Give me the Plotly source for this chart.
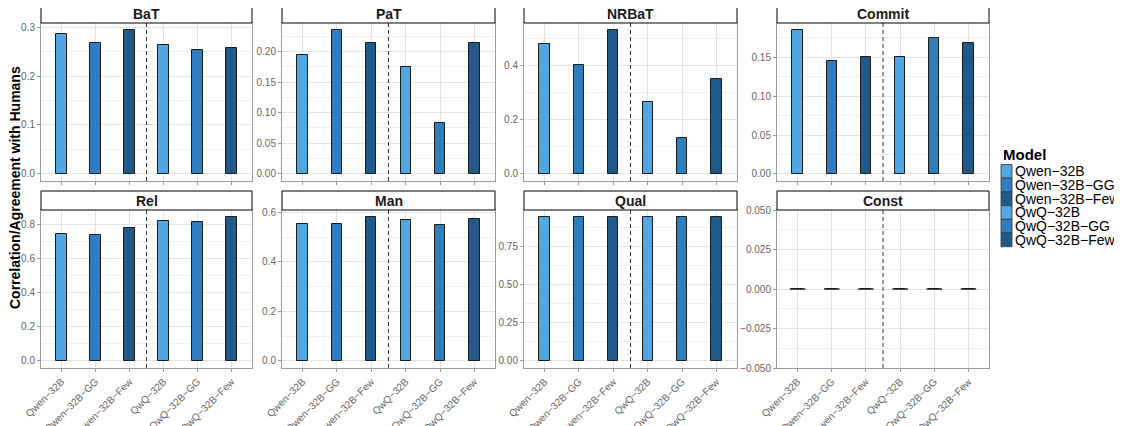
import plotly.graph_objects as go

# ---------------- data ----------------
MODELS = ["Qwen−32B", "Qwen−32B−GG", "Qwen−32B−Few", "QwQ−32B", "QwQ−32B−GG", "QwQ−32B−Few"]
QWEN_COUNT = 3  # number of Qwen models before the dashed separator
COLORS = ["#4FA8E1", "#2E7EC1", "#1F5A8A", "#4FA8E1", "#2E7EC1", "#1F5A8A"]

METRICS = ["BaT", "PaT", "NRBaT", "Commit", "Rel", "Man", "Qual", "Const"]
BAT = [0.287, 0.267, 0.294, 0.264, 0.254, 0.257]
PAT = [0.194, 0.235, 0.214, 0.174, 0.083, 0.214]
NRBAT = [0.479, 0.402, 0.530, 0.265, 0.134, 0.350]
COMMIT = [0.185, 0.145, 0.150, 0.150, 0.175, 0.169]
REL = [0.747, 0.740, 0.781, 0.820, 0.814, 0.843]
MAN = [0.554, 0.554, 0.581, 0.570, 0.551, 0.572]
QUAL = [0.940, 0.940, 0.940, 0.940, 0.940, 0.940]
CONST = [0.0, 0.0, 0.0, 0.0, 0.0, 0.0]
VALUES = [BAT, PAT, NRBAT, COMMIT, REL, MAN, QUAL, CONST]

Y_TICK_STEP = [0.1, 0.05, 0.2, 0.05, 0.2, 0.2, 0.25, 0.025]
Y_TICK_FORMAT = [".1f", ".2f", ".1f", ".2f", ".1f", ".1f", ".2f", ".3f"]

Y_TITLE = "Correlation/Agreement with Humans"
LEGEND_TITLE = "Model"

# ---------------- layout geometry (window pixels) ----------------
W, H = 1122, 426
OFF = 8                      # default page margin around the plot div


def px(x):
    return (x - OFF) / W


def py(y):
    return 1 - (y - OFF) / H


COL_X = [(41, 252), (282, 495), (524, 737), (777, 989)]
ROW_Y = [(23, 181), (210, 368)]
STRIP_H = 19
FONT = "Liberation Sans, Arial, Helvetica, sans-serif"
GRID = "#E3E3E3"
MINOR_GRID = "#EFEFEF"
BORDER = "#9A9A9A"
TICK_TXT = "#666666"

fig = go.Figure()
shapes = []
annotations = []
layout_axes = {}

for i, (metric, vals) in enumerate(zip(METRICS, VALUES)):
    r, c = divmod(i, 4)
    n = i + 1
    sfx = "" if n == 1 else str(n)
    xa, ya = f"x{sfx}", f"y{sfx}"
    xk, yk = f"xaxis{sfx}", f"yaxis{sfx}"
    x0, x1 = COL_X[c]
    y0, y1 = ROW_Y[r]

    fig.add_trace(go.Bar(
        x=MODELS, y=vals, xaxis=xa, yaxis=ya, width=0.3,
        marker=dict(color=COLORS, line=dict(color="#1a1a1a", width=1)),
        showlegend=False, name=metric,
        hovertemplate="%{x}: %{y}<extra>" + metric + "</extra>",
    ))
    # zero-height bars collapse to a flat outline, as in the original
    zx = [m for m, v in zip(MODELS, vals) if v == 0]
    zy = [v for v in vals if v == 0]
    if zx:
        fig.add_trace(go.Scatter(
            x=zx, y=zy, xaxis=xa, yaxis=ya, mode="markers",
            marker=dict(symbol="line-ew", size=11, line=dict(color="#1a1a1a", width=1.5)),
            showlegend=False, hoverinfo="skip",
        ))

    vmax, vmin = max(vals), min(vals)
    if vmax == vmin == 0:
        yr = [-0.05, 0.05]
    else:
        lo, hi = min(0, vmin), max(0, vmax)
        pad = 0.05 * (hi - lo)
        yr = [lo - pad, hi + pad]

    step = Y_TICK_STEP[i]
    layout_axes[xk] = dict(
        domain=[px(x0), px(x1)], anchor=ya, type="category",
        categoryorder="array", categoryarray=MODELS,
        range=[-0.6, len(MODELS) - 0.4], automargin=False,
        showgrid=True, gridcolor=GRID, gridwidth=1,
        showline=True, linecolor=BORDER, linewidth=1, mirror=True,
        ticks="outside", ticklen=3, tickcolor=BORDER, tickwidth=1,
        showticklabels=(r == 1), tickangle=-45,
        tickfont=dict(family=FONT, size=10, color=TICK_TXT),
        zeroline=False, fixedrange=True,
    )
    layout_axes[yk] = dict(
        domain=[py(y1), py(y0)], anchor=xa, range=yr, automargin=False,
        tickmode="linear", tick0=0, dtick=step, tickformat=Y_TICK_FORMAT[i],
        showgrid=True, gridcolor=GRID, gridwidth=1,
        minor=dict(tick0=0, dtick=step / 2, showgrid=True, gridcolor=MINOR_GRID, gridwidth=0.8),
        showline=True, linecolor=BORDER, linewidth=1, mirror=True,
        ticks="outside", ticklen=3, tickcolor=BORDER, tickwidth=1,
        tickfont=dict(family=FONT, size=10, color=TICK_TXT),
        zeroline=False, fixedrange=True,
    )

    # dashed separator between the Qwen and QwQ families
    shapes.append(dict(
        type="line", xref=xa, yref=f"{ya} domain",
        x0=QWEN_COUNT - 0.5, x1=QWEN_COUNT - 0.5, y0=0, y1=1,
        line=dict(color="#333333", width=1, dash="4px,3px"), layer="above",
    ))
    # facet strip
    shapes.append(dict(
        type="rect", xref="paper", yref="paper",
        x0=px(x0), x1=px(x1), y0=py(y0), y1=py(y0 - STRIP_H),
        fillcolor="white", line=dict(color="black", width=1),
    ))
    annotations.append(dict(
        text=f"<b>{metric}</b>", xref="paper", yref="paper",
        x=px((x0 + x1) / 2), y=py(y0 - STRIP_H / 2),
        xanchor="center", yanchor="middle", showarrow=False,
        font=dict(family=FONT, size=14, color="#1a1a1a"),
    ))

# y-axis title
annotations.append(dict(
    text=f"<b>{Y_TITLE}</b>", xref="paper", yref="paper",
    x=px(15), y=py(188), textangle=-90, showarrow=False,
    xanchor="center", yanchor="middle",
    font=dict(family=FONT, size=14, color="black"),
))

# legend (drawn manually to keep the compact key spacing)
LEG_X, LEG_TOP, KEY_H, KEY_W = 1001, 164.5, 13.7, 11
annotations.append(dict(
    text=f"<b>{LEGEND_TITLE}</b>", xref="paper", yref="paper",
    x=px(LEG_X), y=py(154), xanchor="left", yanchor="middle", showarrow=False,
    font=dict(family=FONT, size=15, color="black"),
))
for k, (m, col) in enumerate(zip(MODELS, COLORS)):
    ty = LEG_TOP + k * KEY_H
    shapes.append(dict(
        type="rect", xref="paper", yref="paper",
        x0=px(LEG_X), x1=px(LEG_X + KEY_W),
        y0=py(ty + KEY_H), y1=py(ty),
        fillcolor=col, line=dict(color="#333333", width=0.8),
    ))
    annotations.append(dict(
        text=m, xref="paper", yref="paper",
        x=px(LEG_X + KEY_W + 1), y=py(ty + KEY_H / 2),
        xanchor="left", yanchor="middle", showarrow=False,
        font=dict(family=FONT, size=14, color="black"),
    ))

fig.update_layout(
    width=W, height=H, margin=dict(l=0, r=0, t=0, b=0, autoexpand=False),
    paper_bgcolor="white", plot_bgcolor="white",
    showlegend=False, bargap=0, barmode="overlay",
    shapes=shapes, annotations=annotations,
    font=dict(family=FONT),
    **layout_axes,
)

fig.write_html("out.html")
